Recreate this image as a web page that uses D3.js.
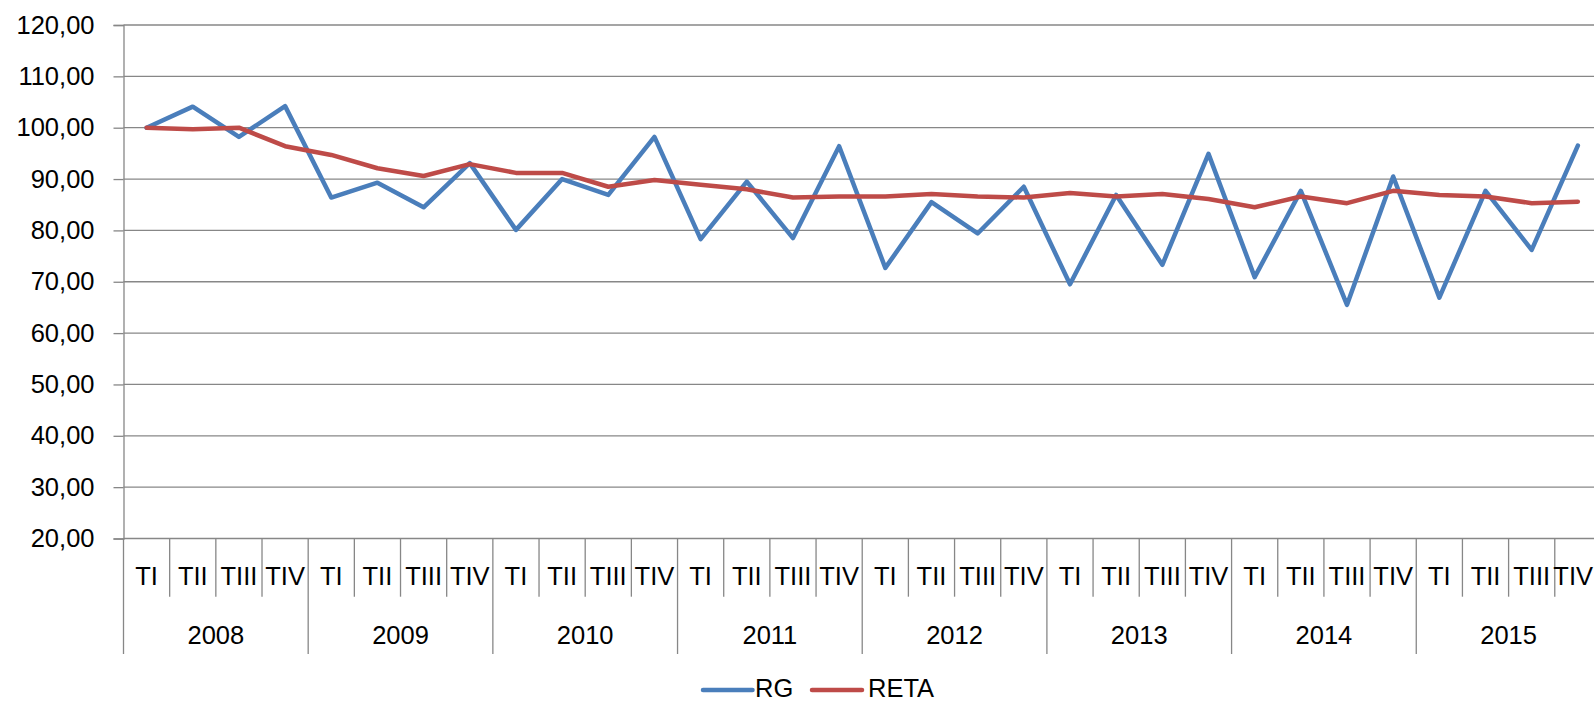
<!DOCTYPE html>
<html>
<head>
<meta charset="utf-8">
<script src="https://cdn.jsdelivr.net/npm/d3@7"></script>
<style>
  html, body { margin: 0; padding: 0; background: #fff; overflow: hidden; }
  svg { display: block; font-family: "Liberation Sans", Arial, sans-serif; }
</style>
</head>
<body>
<svg id="chart" width="1594" height="703"></svg>
<script>
const years = ["2008","2009","2010","2011","2012","2013","2014","2015"];
const quarters = ["TI","TII","TIII","TIV"];
const seriesNames = ["RG","RETA"];
const rg = [100.0,104.1,98.2,104.2, 86.4,89.3,84.5,93.1, 80.1,90.0,86.9,98.2,
            78.3,89.5,78.5,96.4, 72.7,85.5,79.4,88.5, 69.5,86.9,73.3,94.9,
            70.9,87.7,65.5,90.5, 66.9,87.7,76.2,96.5];
const reta = [100.0,99.7,100.0,96.4, 94.7,92.1,90.6,92.9, 91.2,91.2,88.5,89.8,
              88.9,88.0,86.4,86.6, 86.6,87.1,86.6,86.4, 87.3,86.6,87.1,86.1,
              84.5,86.6,85.3,87.7, 86.9,86.6,85.3,85.6];
const yTicks = [20,30,40,50,60,70,80,90,100,110,120];

const svg = d3.select("#chart");
const W = 1594;
const plotLeft = 123.5, plotTop = 25, plotBottom = 538.5;
const qW = 46.17;
const plotRight = plotLeft + qW * 32;

const keys = [];
years.forEach(yr => quarters.forEach(q => keys.push(yr + "|" + q)));

const x = d3.scaleBand().domain(keys).range([plotLeft, plotRight]).padding(0);
const xYear = d3.scaleBand().domain(years).range([plotLeft, plotRight]).padding(0);
const y = d3.scaleLinear().domain([20, 120]).range([plotBottom, plotTop]);

const gridColor = "#878787";
const fontSize = 25.5;

// gridlines
svg.append("g").selectAll("line").data(yTicks).join("line")
  .attr("x1", plotLeft).attr("x2", W)
  .attr("y1", d => y(d)).attr("y2", d => y(d))
  .attr("stroke", gridColor).attr("stroke-width", 1.3);

// y axis
const yAxis = svg.append("g").attr("transform", `translate(${plotLeft},0)`)
  .call(d3.axisLeft(y).tickValues(yTicks).tickSize(10).tickPadding(19)
    .tickFormat(d => d3.format(".2f")(d).replace(".", ",")));
yAxis.select(".domain").attr("stroke", gridColor).attr("stroke-width", 1.3);
yAxis.selectAll(".tick line").attr("stroke", gridColor).attr("stroke-width", 1.3);
yAxis.selectAll("text").attr("font-size", fontSize).attr("fill", "#000")
  .attr("font-family", "Liberation Sans, Arial, sans-serif");

// category separators
const bounds = d3.range(0, 33);
svg.append("g").selectAll("line").data(bounds).join("line")
  .attr("x1", i => i < 32 ? x(keys[i]) : plotRight)
  .attr("x2", i => i < 32 ? x(keys[i]) : plotRight)
  .attr("y1", plotBottom)
  .attr("y2", i => i % 4 === 0 ? 654 : 596.7)
  .attr("stroke", gridColor).attr("stroke-width", 1.3);

// quarter labels (last one kept inside the canvas edge)
svg.append("g").selectAll("text").data(keys).join("text")
  .attr("x", (k, i) => i === keys.length - 1 ? W - 1 : x(k) + x.bandwidth() / 2)
  .attr("y", 585)
  .attr("text-anchor", (k, i) => i === keys.length - 1 ? "end" : "middle")
  .attr("font-size", fontSize).attr("fill", "#000")
  .text(k => k.split("|")[1]);

// year labels
svg.append("g").selectAll("text").data(years).join("text")
  .attr("x", d => xYear(d) + xYear.bandwidth() / 2)
  .attr("y", 644)
  .attr("text-anchor", "middle")
  .attr("font-size", fontSize).attr("fill", "#000")
  .text(d => d);

// lines
const line = d3.line()
  .x((d, i) => x(keys[i]) + x.bandwidth() / 2)
  .y(d => y(d));

const colors = { RG: "#4A7EBB", RETA: "#BE4B48" };
[["RG", rg], ["RETA", reta]].forEach(([name, vals]) => {
  svg.append("path").datum(vals)
    .attr("d", line)
    .attr("fill", "none")
    .attr("stroke", colors[name])
    .attr("stroke-width", 4.5)
    .attr("stroke-linejoin", "round")
    .attr("stroke-linecap", "round");
});

// legend
const legendItems = [
  { name: "RG", x0: 703, x1: 752.5, tx: 755 },
  { name: "RETA", x0: 812, x1: 862, tx: 868 }
];
const lg = svg.append("g");
lg.selectAll("line").data(legendItems).join("line")
  .attr("x1", d => d.x0).attr("x2", d => d.x1)
  .attr("y1", 690).attr("y2", 690)
  .attr("stroke", d => colors[d.name]).attr("stroke-width", 4.5)
  .attr("stroke-linecap", "round");
lg.selectAll("text").data(legendItems).join("text")
  .attr("x", d => d.tx).attr("y", 696.5)
  .attr("font-size", fontSize).attr("fill", "#000")
  .text(d => d.name);
</script>
</body>
</html>
